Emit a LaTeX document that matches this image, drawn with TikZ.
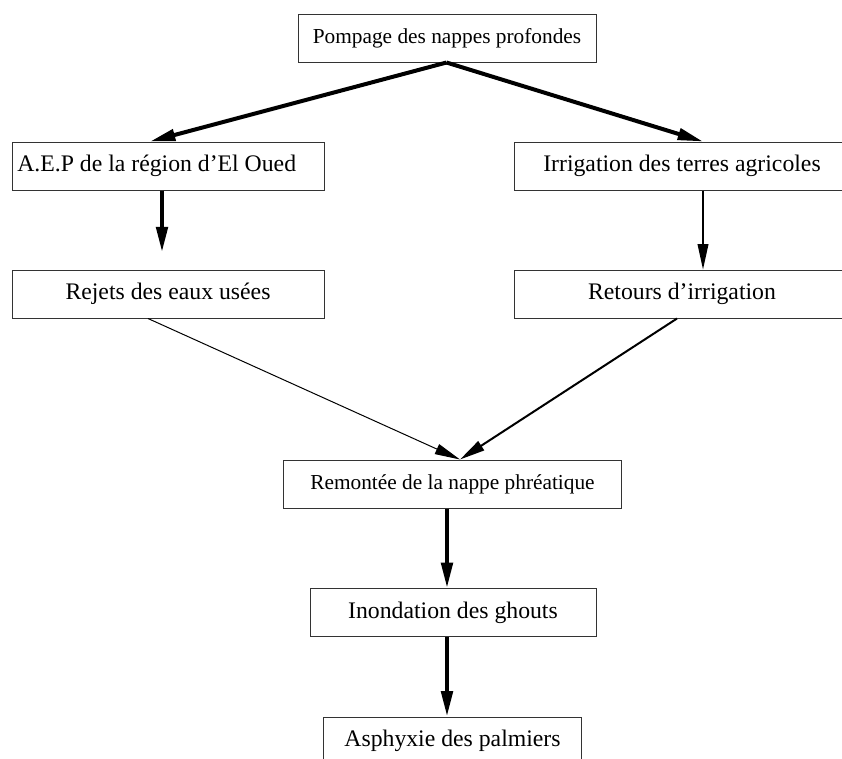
\documentclass[tikz,border=0pt]{standalone}
\usepackage{fontspec}
\setmainfont{Liberation Serif}
\usepackage{tikz}
\usetikzlibrary{arrows.meta,calc}

\begin{document}
\begin{tikzpicture}[
  x=0.75pt, y=-0.75pt,
  bigfont/.style={font=\fontsize{17.8}{20}\selectfont},
  smallfont/.style={font=\fontsize{16}{19}\selectfont},
  box/.style={draw=black!80, line width=0.75pt, rectangle, inner sep=0pt, minimum height=36pt, bigfont},
  heavy/.style={-{Triangle[length=19pt,width=8.5pt]}, line width=3pt},
  light/.style={-{Triangle[length=19pt,width=8pt]}, line width=1.1pt},
  fine/.style={-{Triangle[length=19pt,width=8pt]}, line width=0.75pt},
  mid/.style={-{Triangle[length=19pt,width=8pt]}, line width=1.5pt}
]
\useasboundingbox (0,0) rectangle (842,758);
\node[box, smallfont, minimum width=223.5pt] (pomp) at (447,38) {Pompage des nappes profondes};
\node[box, minimum width=234pt, text width=226pt, align=flush left, inner xsep=4pt] (aep) at (168,166) {A.E.P de la région d’El Oued};
\node[box, minimum width=252pt] (irr) at (682,166) {Irrigation des terres agricoles};
\node[box, minimum width=234pt] (rej) at (168,294) {Rejets des eaux usées};
\node[box, minimum width=252pt] (ret) at (682,294) {Retours d’irrigation};
\node[box, smallfont, minimum width=254pt] (rem) at (452.5,484) {Remontée de la nappe phréatique};
\node[box, minimum width=214.5pt] (inon) at (453,612.5) {Inondation des ghouts};
\node[box, minimum width=194pt] (asph) at (452.5,741) {Asphyxie des palmiers};
\draw[heavy] ($(pomp.south)+(-0.5,0)$) -- ($(aep.north)+(-18,0)$);
\draw[heavy] ($(pomp.south)+(-0.5,0)$) -- ($(irr.north)+(21,0)$);
\draw[heavy, shorten >=13pt] ($(aep.south)+(-6,0)$) -- ($(rej.north)+(-6,0)$);
\draw[light] ($(irr.south)+(21,0)$) -- ($(ret.north)+(21,0)$);
\draw[fine] ($(rej.south)+(-20,0)$) -- ($(rem.north)+(7.5,0)$);
\draw[mid] ($(ret.south)+(-5,0)$) -- ($(rem.north)+(7.5,0)$);
\draw[heavy] ($(rem.south)+(-5.5,0)$) -- ($(inon.north)+(-6,0)$);
\draw[heavy] ($(inon.south)+(-6,0)$) -- ($(asph.north)+(-5.5,0)$);
\end{tikzpicture}
\end{document}
